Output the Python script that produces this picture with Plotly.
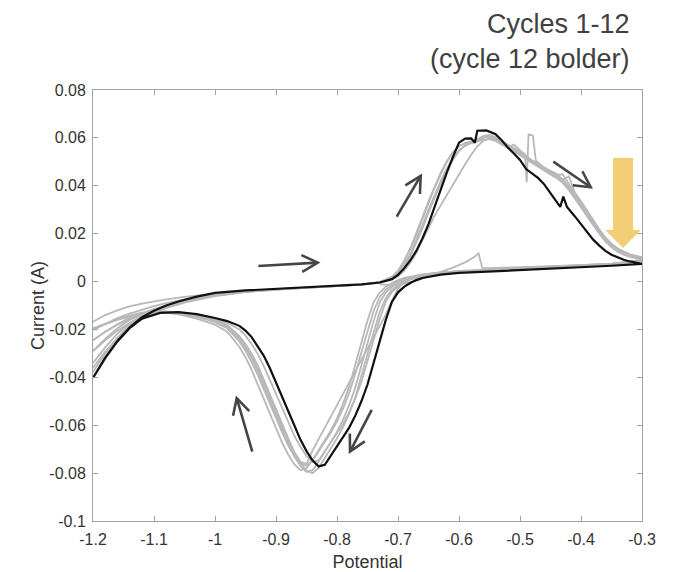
import math
import plotly.graph_objects as go

# ---------------- tick labels ----------------
x_tickvals = [-1.2, -1.1, -1.0, -0.9, -0.8, -0.7, -0.6, -0.5, -0.4, -0.3]
x_ticktext = ["-1.2", "-1.1", "-1", "-0.9", "-0.8", "-0.7", "-0.6", "-0.5", "-0.4", "-0.3"]
y_tickvals = [-0.1, -0.08, -0.06, -0.04, -0.02, 0, 0.02, 0.04, 0.06, 0.08]
y_ticktext = ["-0.1", "-0.08", "-0.06", "-0.04", "-0.02", "0", "0.02", "0.04", "0.06", "0.08"]

# ---------------- potential grids ----------------
fwd_potential = [-1.20, -1.18, -1.16, -1.14, -1.12, -1.10, -1.08, -1.05, -1.00, -0.95, -0.90, -0.85, -0.80, -0.76,
                 -0.73, -0.71, -0.70, -0.69, -0.68, -0.67, -0.66, -0.65, -0.64, -0.63, -0.62, -0.61, -0.60, -0.59,
                 -0.58, -0.57, -0.56, -0.55, -0.54, -0.53, -0.52, -0.51, -0.50, -0.49, -0.48, -0.47, -0.46, -0.45,
                 -0.44, -0.43, -0.42, -0.41, -0.40, -0.39, -0.38, -0.37, -0.36, -0.35, -0.34, -0.33, -0.32, -0.31, -0.30]

rev_potential = [-0.30, -0.35, -0.40, -0.45, -0.50, -0.55, -0.60, -0.63, -0.66, -0.67,
                 -0.68, -0.69, -0.70, -0.71, -0.72, -0.73, -0.74, -0.75, -0.76, -0.77, -0.78, -0.79, -0.80, -0.81,
                 -0.82, -0.83, -0.84, -0.85, -0.86, -0.87, -0.88, -0.89, -0.90, -0.91, -0.92, -0.93, -0.94, -0.95,
                 -0.96, -0.98, -1.00, -1.03, -1.06, -1.09, -1.12, -1.14, -1.16, -1.18, -1.20]

# ---------------- cycle 1 (gray) ----------------
c1_fwd_potential = [-0.73, -0.70, -0.67, -0.64, -0.61, -0.59, -0.575, -0.568, -0.565, -0.562,
                    -0.55, -0.50, -0.45, -0.40, -0.35, -0.30]
c1_fwd_current = [-0.0012, -0.0016, 0.0004, 0.0030, 0.0058, 0.0080, 0.0102, 0.0118, 0.0090, 0.0057,
                  0.0056, 0.0059, 0.0063, 0.0068, 0.0074, 0.0086]
c1_rev_current = [0.0085, 0.0072, 0.0066, 0.0060, 0.0054, 0.0048, 0.0042, 0.0036, 0.0024, 0.0016,
                  0.0008, -0.0006, -0.0021, -0.0044, -0.0083, -0.0156, -0.0244, -0.0332, -0.0419, -0.0488,
                  -0.0546, -0.0595, -0.0634, -0.0673, -0.0712, -0.0746, -0.0753, -0.0729, -0.0690, -0.0644,
                  -0.0585, -0.0527, -0.0463, -0.0408, -0.0353, -0.0302, -0.0261, -0.0226, -0.0200,
                  -0.0172, -0.0158, -0.0140, -0.0128, -0.0124, -0.0130, -0.0142, -0.0158, -0.0175, -0.0195]

# ---------------- cycles 2..6 (gray) ----------------
c2_fwd_current = [-0.0168, -0.0140, -0.0120, -0.0104, -0.0092, -0.0082, -0.0074, -0.0064, -0.0050, -0.0040,
                  -0.0032, -0.0025, -0.0019, -0.0013,
                  -0.0002, 0.0018, 0.0042, 0.0085, 0.0135, 0.0195, 0.0262, 0.0330, 0.0392, 0.0448,
                  0.0500, 0.0540, 0.0566, 0.0576, 0.0581, 0.0589, 0.0600, 0.0605, 0.0598, 0.0582,
                  0.0565, 0.0550, 0.0535, 0.0518, 0.0500, 0.0485, 0.0468, 0.0452, 0.0437, 0.0420,
                  0.0390, 0.0355, 0.0318, 0.0280, 0.0242, 0.0205, 0.0174, 0.0152, 0.0138, 0.0124,
                  0.0113, 0.0106, 0.0100]
c2_rev_current = [0.0090, 0.0075, 0.0068, 0.0062, 0.0056, 0.0050, 0.0044, 0.0038, 0.0028, 0.0022,
                  0.0016, 0.0006, -0.0006, -0.0023, -0.0046, -0.0088, -0.0165, -0.0258, -0.0350, -0.0443,
                  -0.0515, -0.0577, -0.0628, -0.0670, -0.0711, -0.0752, -0.0788, -0.0795, -0.0770, -0.0729,
                  -0.0680, -0.0618, -0.0556, -0.0489, -0.0431, -0.0373, -0.0319, -0.0276, -0.0239,
                  -0.0191, -0.0165, -0.0145, -0.0132, -0.0127, -0.0135, -0.0152, -0.0178, -0.0210, -0.0245]

c3_fwd_current = [-0.0245, -0.0210, -0.0180, -0.0155, -0.0133, -0.0115, -0.0099, -0.0080, -0.0057, -0.0042,
                  -0.0033, -0.0026, -0.0019, -0.0013,
                  -0.0003, 0.0015, 0.0035, 0.0068, 0.0115, 0.0172, 0.0236, 0.0300, 0.0362, 0.0420,
                  0.0472, 0.0515, 0.0548, 0.0568, 0.0578, 0.0585, 0.0592, 0.0595, 0.0588, 0.0572,
                  0.0560, 0.0572, 0.0548, 0.0525, 0.0505, 0.0490, 0.0473, 0.0458, 0.0445, 0.0448,
                  0.0405, 0.0368, 0.0328, 0.0288, 0.0248, 0.0210, 0.0178, 0.0153, 0.0134, 0.0120,
                  0.0110, 0.0103, 0.0097]
c3_rev_current = [0.0088, 0.0074, 0.0067, 0.0061, 0.0055, 0.0049, 0.0043, 0.0038, 0.0030, 0.0026,
                  0.0021, 0.0015, 0.0006, -0.0006, -0.0022, -0.0046, -0.0087, -0.0163, -0.0255, -0.0347,
                  -0.0439, -0.0510, -0.0571, -0.0622, -0.0663, -0.0704, -0.0745, -0.0780, -0.0788, -0.0763,
                  -0.0722, -0.0673, -0.0612, -0.0551, -0.0485, -0.0426, -0.0369, -0.0316, -0.0273,
                  -0.0209, -0.0180, -0.0155, -0.0137, -0.0128, -0.0138, -0.0160, -0.0195, -0.0240, -0.0290]

c4_fwd_current = [-0.0202, -0.0176, -0.0153, -0.0134, -0.0117, -0.0103, -0.0090, -0.0074, -0.0054, -0.0041,
                  -0.0032, -0.0025, -0.0019, -0.0013,
                  -0.0005, 0.0008, 0.0022, 0.0045, 0.0078, 0.0120, 0.0172, 0.0225, 0.0275, 0.0318,
                  0.0362, 0.0405, 0.0448, 0.0490, 0.0530, 0.0565, 0.0588, 0.0598, 0.0592, 0.0578,
                  0.0560, 0.0545, 0.0530, 0.0512, 0.0495, 0.0478, 0.0462, 0.0447, 0.0432, 0.0412,
                  0.0382, 0.0348, 0.0310, 0.0272, 0.0235, 0.0200, 0.0168, 0.0143, 0.0125, 0.0112,
                  0.0103, 0.0097, 0.0092]
c4_rev_current = [0.0082, 0.0070, 0.0064, 0.0058, 0.0052, 0.0046, 0.0040, 0.0034, 0.0022, 0.0014,
                  0.0011, 0.0000, -0.0015, -0.0035, -0.0068, -0.0127, -0.0213, -0.0307, -0.0400, -0.0484,
                  -0.0551, -0.0608, -0.0655, -0.0697, -0.0738, -0.0778, -0.0800, -0.0790, -0.0757, -0.0711,
                  -0.0655, -0.0593, -0.0528, -0.0465, -0.0406, -0.0349, -0.0301, -0.0260, -0.0228,
                  -0.0182, -0.0160, -0.0142, -0.0130, -0.0128, -0.0148, -0.0183, -0.0235, -0.0300, -0.0378]

c5_fwd_potential = [-1.20, -1.18, -1.16, -1.14, -1.12, -1.10, -1.08, -1.05, -1.00, -0.95, -0.90, -0.85, -0.80, -0.76,
                    -0.73, -0.71, -0.70, -0.69, -0.68, -0.67, -0.66, -0.65, -0.64, -0.63, -0.62, -0.61, -0.60,
                    -0.59, -0.58, -0.57, -0.56, -0.55, -0.54, -0.53, -0.52, -0.51, -0.50,
                    -0.492, -0.489, -0.486, -0.479, -0.474,
                    -0.46, -0.45, -0.44, -0.43, -0.42, -0.41, -0.40, -0.39, -0.38, -0.37, -0.36, -0.35,
                    -0.34, -0.33, -0.32, -0.31, -0.30]
c5_fwd_current = [-0.0290, -0.0245, -0.0205, -0.0172, -0.0145, -0.0123, -0.0105, -0.0084, -0.0059, -0.0043,
                  -0.0033, -0.0026, -0.0019, -0.0013,
                  -0.0004, 0.0014, 0.0033, 0.0063, 0.0105, 0.0160, 0.0222, 0.0288, 0.0352, 0.0410,
                  0.0462, 0.0508, 0.0545, 0.0568, 0.0580, 0.0590, 0.0602, 0.0608, 0.0600, 0.0585,
                  0.0570, 0.0558, 0.0545,
                  0.0532, 0.0415, 0.0615, 0.0610, 0.0505,
                  0.0475, 0.0460, 0.0445, 0.0428, 0.0396, 0.0360, 0.0322, 0.0284, 0.0246, 0.0210,
                  0.0178, 0.0152, 0.0133, 0.0119, 0.0109, 0.0102, 0.0097]
c5_rev_current = [0.0086, 0.0073, 0.0067, 0.0061, 0.0055, 0.0049, 0.0043, 0.0036, 0.0026, 0.0020,
                  0.0012, 0.0000, -0.0030, -0.0080, -0.0138, -0.0185, -0.0232, -0.0279, -0.0326, -0.0373,
                  -0.0420, -0.0467, -0.0514, -0.0561, -0.0608, -0.0655, -0.0705, -0.0762, -0.0752, -0.0715,
                  -0.0665, -0.0603, -0.0540, -0.0476, -0.0420, -0.0365, -0.0313, -0.0272, -0.0236,
                  -0.0189, -0.0163, -0.0143, -0.0131, -0.0127, -0.0145, -0.0175, -0.0218, -0.0275, -0.0340]

c6_fwd_current = [-0.0360, -0.0292, -0.0236, -0.0192, -0.0158, -0.0132, -0.0111, -0.0088, -0.0061, -0.0044,
                  -0.0034, -0.0026, -0.0020, -0.0013,
                  -0.0002, 0.0020, 0.0045, 0.0085, 0.0138, 0.0200, 0.0268, 0.0335, 0.0398, 0.0455,
                  0.0502, 0.0540, 0.0566, 0.0578, 0.0585, 0.0594, 0.0608, 0.0612, 0.0602, 0.0585,
                  0.0568, 0.0553, 0.0540, 0.0522, 0.0505, 0.0490, 0.0475, 0.0462, 0.0450, 0.0425,
                  0.0440, 0.0372, 0.0335, 0.0295, 0.0255, 0.0218, 0.0185, 0.0158, 0.0138, 0.0124,
                  0.0114, 0.0107, 0.0102]
c6_rev_current = [0.0087, 0.0074, 0.0068, 0.0062, 0.0056, 0.0050, 0.0044, 0.0037, 0.0029, 0.0024,
                  0.0018, 0.0011, 0.0000, -0.0014, -0.0034, -0.0065, -0.0123, -0.0205, -0.0295, -0.0385,
                  -0.0465, -0.0530, -0.0585, -0.0630, -0.0670, -0.0710, -0.0748, -0.0769, -0.0760, -0.0728,
                  -0.0684, -0.0630, -0.0570, -0.0508, -0.0447, -0.0390, -0.0336, -0.0289, -0.0250,
                  -0.0196, -0.0170, -0.0148, -0.0134, -0.0128, -0.0134, -0.0146, -0.0160, -0.0178, -0.0200]

# ---------------- cycle 12 (black, bolder) ----------------
c12_fwd_potential = [-1.20, -1.18, -1.16, -1.14, -1.12, -1.10, -1.08, -1.06, -1.03, -1.00, -0.95, -0.90, -0.85,
                     -0.80, -0.76, -0.73, -0.71, -0.70, -0.69, -0.68, -0.67, -0.66, -0.65, -0.64, -0.63, -0.62,
                     -0.61, -0.60, -0.59, -0.58, -0.574, -0.570, -0.555, -0.54, -0.53, -0.52, -0.51, -0.50,
                     -0.49, -0.48, -0.47, -0.46, -0.45, -0.44, -0.434, -0.429, -0.423, -0.41, -0.40, -0.39,
                     -0.38, -0.37, -0.36, -0.35, -0.34, -0.33, -0.32, -0.31, -0.30]
c12_fwd_current = [-0.0402, -0.0318, -0.0248, -0.0192, -0.0150, -0.0122, -0.0100, -0.0083, -0.0063, -0.0047,
                   -0.0037, -0.0030, -0.0024, -0.0018, -0.0012, -0.0004, 0.0010, 0.0028, 0.0055, 0.0088,
                   0.0128, 0.0180, 0.0240, 0.0312, 0.0385, 0.0455, 0.0520, 0.0580, 0.0597, 0.0598,
                   0.0580, 0.0630, 0.0631, 0.0615, 0.0590, 0.0560, 0.0535, 0.0508, 0.0470, 0.0450,
                   0.0432, 0.0405, 0.0370, 0.0335, 0.0312, 0.0355, 0.0312, 0.0272, 0.0238, 0.0205,
                   0.0175, 0.0150, 0.0128, 0.0112, 0.0100, 0.0091, 0.0084, 0.0079, 0.0075]
c12_rev_current = [0.0074, 0.0066, 0.0060, 0.0054, 0.0048, 0.0042, 0.0036, 0.0029, 0.0015, 0.0006,
                   -0.0006, -0.0022, -0.0045, -0.0085, -0.0160, -0.0250, -0.0340, -0.0430, -0.0500, -0.0560,
                   -0.0610, -0.0650, -0.0690, -0.0730, -0.0765, -0.0772, -0.0748, -0.0708, -0.0660, -0.0600,
                   -0.0540, -0.0475, -0.0418, -0.0362, -0.0310, -0.0268, -0.0232, -0.0205, -0.0185,
                   -0.0165, -0.0152, -0.0136, -0.0128, -0.0131, -0.0155, -0.0195, -0.0250, -0.0320, -0.0402]

gray_cycles = [
    (c1_fwd_potential, c1_fwd_current, c1_rev_current),
    (fwd_potential, c2_fwd_current, c2_rev_current),
    (fwd_potential, c3_fwd_current, c3_rev_current),
    (fwd_potential, c4_fwd_current, c4_rev_current),
    (c5_fwd_potential, c5_fwd_current, c5_rev_current),
    (fwd_potential, c6_fwd_current, c6_rev_current),
]

FONT = "Liberation Sans, Arial, sans-serif"
GRAY = "#b8b8b8"
ARROW = "#454545"

fig = go.Figure()
for fx, fy, ry in gray_cycles:
    fig.add_trace(go.Scatter(x=list(fx) + rev_potential, y=list(fy) + ry, mode="lines",
                             line=dict(color=GRAY, width=1.8), showlegend=False, hoverinfo="skip"))
fig.add_trace(go.Scatter(x=c12_fwd_potential + rev_potential, y=c12_fwd_current + c12_rev_current,
                         mode="lines", line=dict(color="#111111", width=2.2), showlegend=False))

# ---------------- decorations (arrows) ----------------
W, H = 676, 572
ML, MR, MT, MB = 93, 34, 90, 51
PX_X = (W - ML - MR) / 0.9
PX_Y = (H - MT - MB) / 0.18

arrows = [
    ((-0.929, 0.0065), (-0.8316, 0.0079)),
    ((-0.7021, 0.0271), (-0.6628, 0.0441)),
    ((-0.4454, 0.0501), (-0.3841, 0.0394)),
    ((-0.7431, -0.0536), (-0.7787, -0.0710)),
    ((-0.9389, -0.0710), (-0.9644, -0.0487)),
]
shapes = []
ARM, ANG = 18.0, math.radians(28)
for (tx, ty), (hx, hy) in arrows:
    dx = (hx - tx) * PX_X
    dy = (hy - ty) * PX_Y
    L = math.hypot(dx, dy)
    bx, by = -dx / L, -dy / L
    pts = []
    for s in (1, -1):
        c, sn = math.cos(s * ANG), math.sin(s * ANG)
        ax = bx * c - by * sn
        ay = bx * sn + by * c
        pts.append((hx + ax * ARM / PX_X, hy + ay * ARM / PX_Y))
    shapes.append(dict(type="line", xref="x", yref="y", x0=tx, y0=ty, x1=hx, y1=hy,
                       line=dict(color=ARROW, width=2.6)))
    path = "M{:.5f},{:.5f} L{:.5f},{:.5f} L{:.5f},{:.5f}".format(pts[0][0], pts[0][1], hx, hy, pts[1][0], pts[1][1])
    shapes.append(dict(type="path", xref="x", yref="y", path=path, line=dict(color=ARROW, width=2.6)))

# big yellow arrow
yc, yhw, yshw = -0.3311, 0.0292, 0.0164
ytop, ybase, ytip = 0.0516, 0.0215, 0.0140
ypath = ("M{a},{t} L{b},{t} L{b},{m} L{c},{m} L{x},{p} L{d},{m} L{e},{m} Z"
         .format(a=yc - yshw, b=yc + yshw, c=yc + yhw, d=yc - yhw, e=yc - yshw, x=yc, t=ytop, m=ybase, p=ytip))
shapes.append(dict(type="path", xref="x", yref="y", path=ypath, fillcolor="#F3CE74",
                   line=dict(width=0), layer="above"))

axis_common = dict(showline=True, linecolor="#a3a3a3", linewidth=1, mirror="ticks", ticks="inside",
                   ticklen=5, tickcolor="#a3a3a3", tickwidth=1, showgrid=False, zeroline=False,
                   automargin=False,
                   tickfont=dict(family=FONT, size=16, color="#333333"))

fig.update_layout(
    width=W, height=H,
    margin=dict(l=ML, r=MR, t=MT, b=MB, autoexpand=False),
    paper_bgcolor="white", plot_bgcolor="white",
    xaxis=dict(range=[-1.2, -0.3], tickvals=x_tickvals, ticktext=x_ticktext, ticklabelstandoff=4,
               title=dict(text="Potential", font=dict(family=FONT, size=18, color="#333333"), standoff=12),
               **axis_common),
    yaxis=dict(range=[-0.1, 0.08], tickvals=y_tickvals, ticktext=y_ticktext, ticklabelstandoff=3,
               title=dict(text="Current (A)", font=dict(family=FONT, size=18, color="#333333"), standoff=0),
               **axis_common),
    shapes=shapes,
    annotations=[dict(text="Cycles 1-12<br>(cycle 12 bolder)", xref="paper", yref="paper",
                      x=(632 - ML) / (W - ML - MR), y=1 + (MT - 41) / (H - MT - MB),
                      xanchor="right", yanchor="middle", align="right", showarrow=False,
                      font=dict(family=FONT, size=27, color="#404040"))],
)

fig.write_html("out.html")
